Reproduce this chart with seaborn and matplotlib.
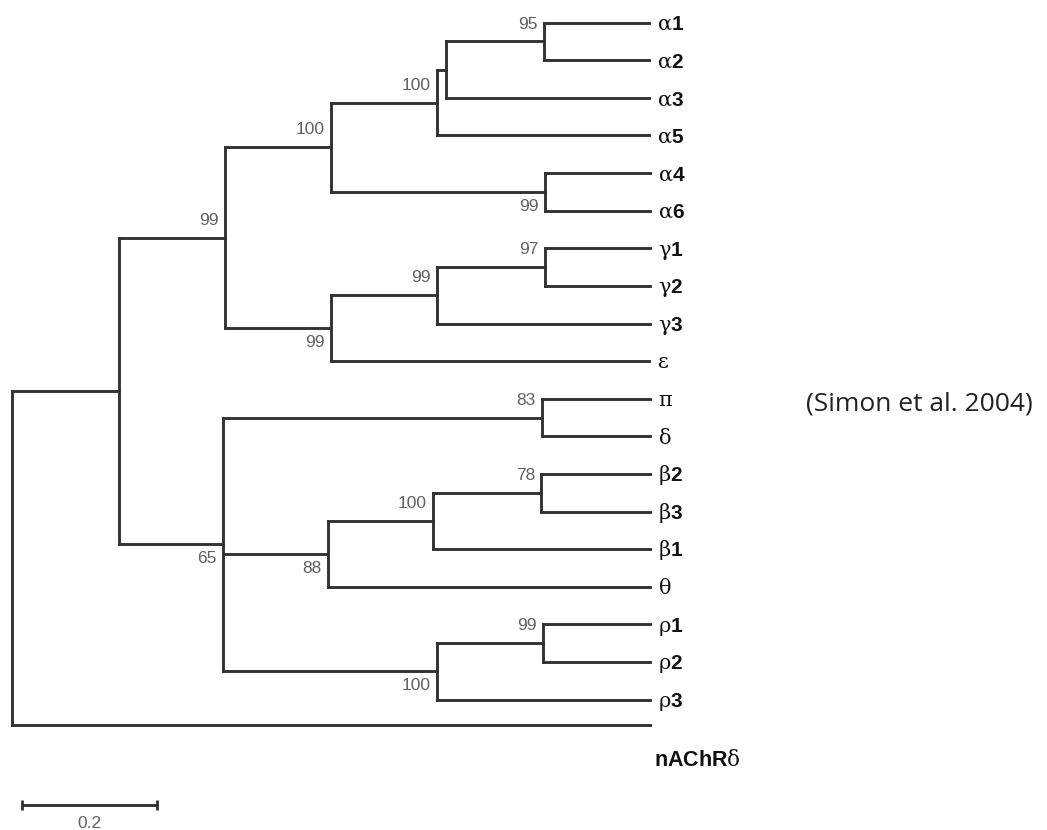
import matplotlib
matplotlib.use("Agg")
import matplotlib.pyplot as plt
import numpy as np
import pandas as pd
import seaborn as sns

# ---------------- tree data (topology, branch lengths, bootstrap) ----------------
nodes = ["root", "n1", "ag", "alpha", "a1235", "a123", "a12", "α1", "α2", "α3", "α5",
         "a46", "α4", "α6", "ge", "g", "g12", "γ1", "γ2", "γ3", "ε",
         "n65", "pd", "π", "δ", "n88", "b", "b23", "β2", "β3", "β1", "θ",
         "rho", "r12", "ρ1", "ρ2", "ρ3", "nAChRδ"]
parents = [None, "root", "n1", "ag", "alpha", "a1235", "a123", "a12", "a12", "a123", "a1235",
           "alpha", "a46", "a46", "ag", "ge", "g", "g12", "g12", "g", "ge",
           "n1", "n65", "pd", "pd", "n65", "n88", "b", "b23", "b23", "b", "n88",
           "n65", "rho", "r12", "r12", "rho", "root"]
branch_lengths = [0.0, 0.158, 0.158, 0.157, 0.157, 0.013, 0.145, 0.156, 0.156, 0.301, 0.314,
                  0.316, 0.156, 0.156, 0.157, 0.156, 0.160, 0.156, 0.156, 0.316, 0.471,
                  0.154, 0.473, 0.160, 0.160, 0.156, 0.156, 0.160, 0.161, 0.161, 0.321, 0.477,
                  0.317, 0.157, 0.159, 0.159, 0.316, 0.945]
bootstrap_nodes = ["ag", "alpha", "a1235", "a12", "a46", "ge", "g", "g12",
                   "n65", "pd", "n88", "b", "b23", "rho", "r12"]
bootstrap_values = [99, 100, 100, 95, 99, 99, 99, 97,
                    65, 83, 88, 100, 78, 100, 99]
outgroup = "nAChRδ"
scale_bar_length = 0.2
citation = "(Simon et al. 2004)"

# ---------------- layout ----------------
sns.set_theme(style="white")
plt.rcParams["font.family"] = ["Liberation Sans", "DejaVu Sans"]
plt.rcParams["mathtext.fontset"] = "custom"
plt.rcParams["mathtext.rm"] = "DejaVu Serif"
plt.rcParams["mathtext.bf"] = "Liberation Sans:bold"

children = {n: [] for n in nodes}
for n, p in zip(nodes, parents):
    if p is not None:
        children[p].append(n)
blen = dict(zip(nodes, branch_lengths))

xpos, ypos = {}, {}
leaf_counter = [0]
OUTGROUP_GAP = 0.67


def place(n, x0):
    xpos[n] = x0 + blen[n]
    if not children[n]:
        if n == outgroup:
            ypos[n] = leaf_counter[0] - 1 + OUTGROUP_GAP
        else:
            ypos[n] = leaf_counter[0]
            leaf_counter[0] += 1
        return
    for c in children[n]:
        place(c, xpos[n])
    ypos[n] = 0.5 * (ypos[children[n][0]] + ypos[children[n][-1]])


place("root", 0.0)

rows = []
seg = 0
for n, p in zip(nodes, parents):
    if p is not None:
        rows += [(seg, xpos[p], ypos[n]), (seg, xpos[n], ypos[n])]
        seg += 1
    if children[n]:
        rows += [(seg, xpos[n], ypos[children[n][0]]), (seg, xpos[n], ypos[children[n][-1]])]
        seg += 1
segments = pd.DataFrame(rows, columns=["seg", "x", "y"])

W, H = 1047, 830
fig = plt.figure(figsize=(W / 100, H / 100), dpi=100)
ax = fig.add_axes([0, 0, 1, 1])
PX_PER_UNIT = 675.0
PX_PER_LEAF = 37.6
X0, Y0 = 12.0, 22.7

line_color = "#333333"
sns.lineplot(data=segments, x="x", y="y", units="seg", estimator=None, sort=False,
             color=line_color, linewidth=2.1, ax=ax, legend=False,
             solid_capstyle="projecting")
ax.set_xlim(-X0 / PX_PER_UNIT, (W - X0) / PX_PER_UNIT)
ax.set_ylim((H - Y0) / PX_PER_LEAF, -Y0 / PX_PER_LEAF)
ax.set_axis_off()

# bootstrap labels
for n, v in zip(bootstrap_nodes, bootstrap_values):
    p = parents[nodes.index(n)]
    sibs = children[p]
    above = sibs.index(n) == 0
    ax.annotate(str(v), xy=(xpos[n], ypos[n]), xytext=(-4.5, 12.5 if above else -10.5),
                textcoords="offset points", ha="right", va="center",
                fontsize=12.5, color="#606060", fontfamily="Liberation Sans")

# leaf labels
for n in nodes:
    if children[n]:
        continue
    if n == outgroup:
        lab = r"$\mathbf{nAChR}\mathrm{%s}$" % n[-1]
        ax.annotate(lab, xy=(xpos[n], ypos[n]), xytext=(3.0, -29.5), textcoords="offset points",
                    ha="left", va="baseline", fontsize=15.5, color="#111111")
        continue
    greek, rest = n[0], n[1:]
    lab = r"$\mathrm{%s}" % greek + (r"\mathbf{%s}" % rest if rest else "") + "$"
    ax.annotate(lab, xy=(xpos[n], ypos[n]), xytext=(5.5, -5.3), textcoords="offset points",
                ha="left", va="baseline", fontsize=15, color="#111111")

# scale bar
sb_x0 = 10.0 / PX_PER_UNIT
sb_y = (805 - Y0) / PX_PER_LEAF
ax.plot([sb_x0, sb_x0 + scale_bar_length], [sb_y, sb_y], color=line_color, lw=2.1,
        marker="|", markersize=7, markeredgewidth=2.0)
ax.text(sb_x0 + scale_bar_length / 2, (823 - Y0) / PX_PER_LEAF, f"{scale_bar_length}",
        ha="center", va="center", fontsize=12.5, color="#606060")

# citation
fig.text(806 / W, 1 - 404 / H, citation, ha="left", va="center", fontsize=19,
         color="#222222", fontfamily="Open Sans")

fig.savefig("out.png", dpi=100, facecolor="white")
